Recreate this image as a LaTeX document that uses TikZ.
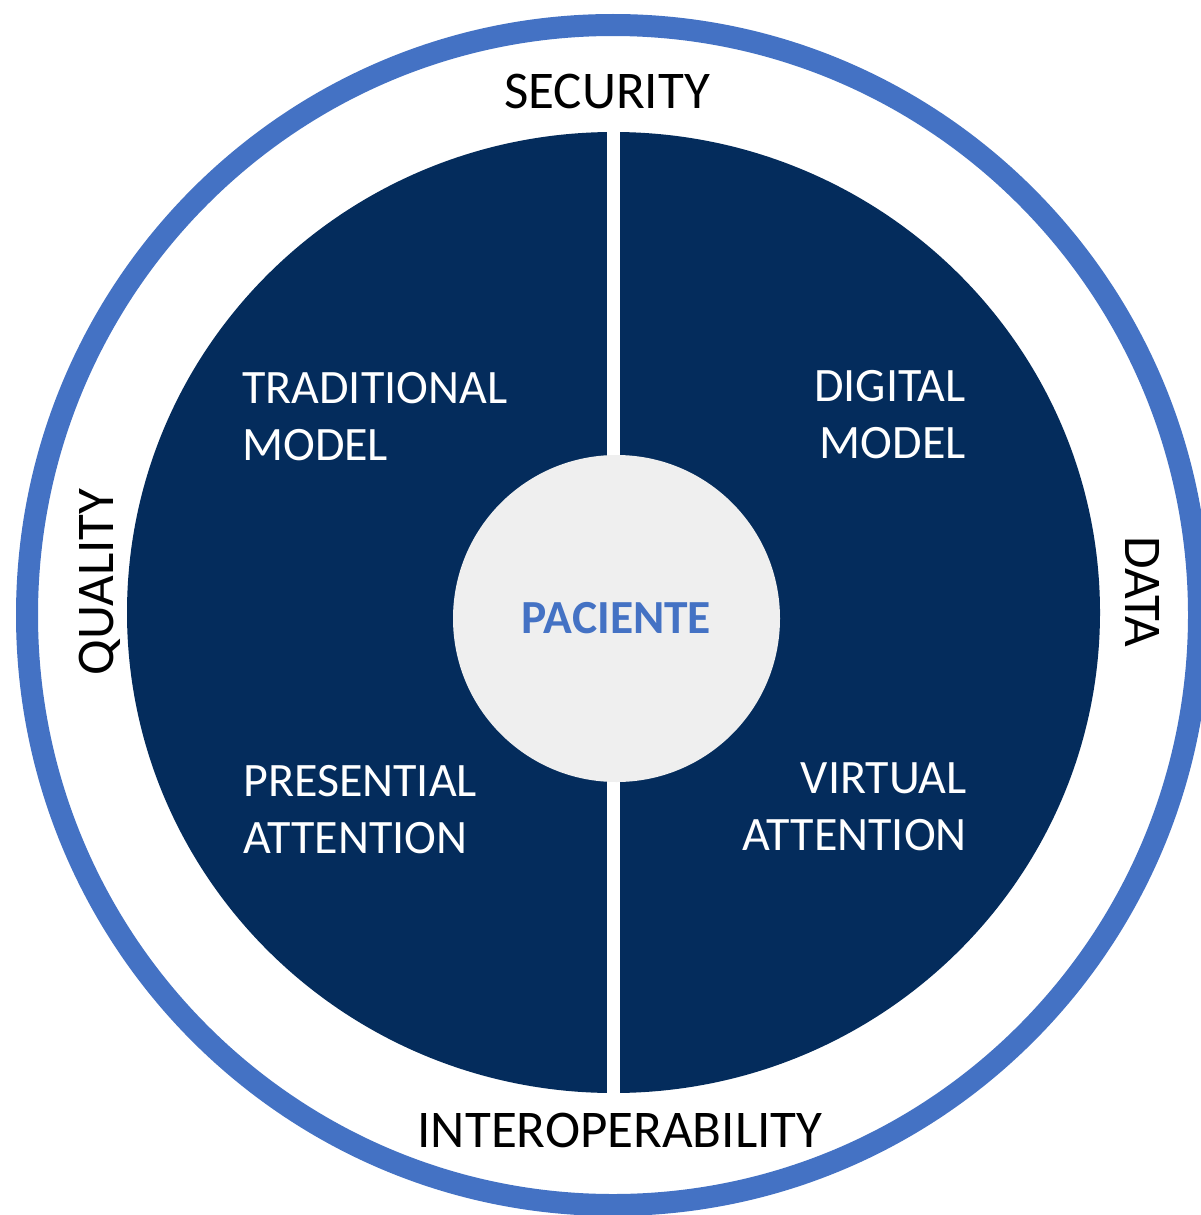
\documentclass[tikz,border=0pt]{standalone}
\usepackage{fontspec}
\setmainfont{Carlito}
\definecolor{ringblue}{HTML}{4472C4}
\definecolor{navy}{HTML}{042C5C}
\definecolor{paper}{HTML}{EFEFEF}
\tikzset{
  outerlabel/.style={text=black, inner sep=0pt, font=\fontsize{53}{60}\selectfont},
  quadlabel/.style={text=white, inner sep=0pt, font=\fontsize{48}{57}\selectfont},
}
\begin{document}
\begin{tikzpicture}[x=1pt,y=-1pt]
  \clip (0,0) rectangle (1201,1215);
  \useasboundingbox (0,0) rectangle (1201,1215);
  \fill[white] (0,0) rectangle (1201,1215);
  % outer ring
  \draw[ringblue, line width=22pt] (613,615) ellipse [x radius=586, y radius=590];
  % dark disc
  \fill[navy] (613.5,612.5) ellipse [x radius=486.5, y radius=480.5];
  % white divider
  \fill[white] (607,120) rectangle (620,1105);
  % centre
  \node[circle, fill=paper, minimum size=327pt, inner sep=0pt,
        text=ringblue, font=\bfseries\fontsize{47.5}{57}\selectfont] (patient) at (616.5,618.5) {PACIENTE};
  % quadrant labels
  \node[quadlabel, anchor=north west, align=left] (trad) at (242,372) {TRADITIONAL\\MODEL};
  \node[quadlabel, anchor=north east, align=right] (digi) at (966,370) {DIGITAL\\MODEL};
  \node[quadlabel, anchor=north west, align=left] (pres) at (243,765) {PRESENTIAL\\ATTENTION};
  \node[quadlabel, anchor=north east, align=right] (virt) at (967,762) {VIRTUAL\\ATTENTION};
  % ring labels
  \node[outerlabel, anchor=base] (security) at (607,108) {SECURITY};
  \node[outerlabel, anchor=base] (interop) at (620,1147) {INTEROPERABILITY};
  \node[outerlabel, anchor=base, rotate=90] (quality) at (113,582) {QUALITY};
  \node[outerlabel, anchor=base, rotate=-90] (data) at (1125,592) {DATA};
\end{tikzpicture}
\end{document}
